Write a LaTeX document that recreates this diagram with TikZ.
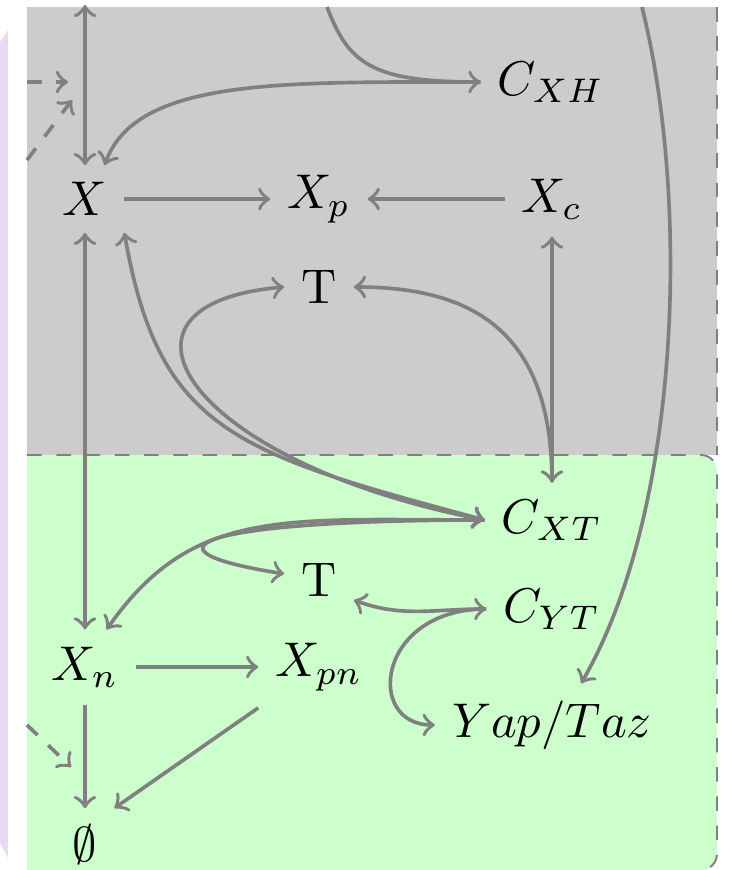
\documentclass[tikz,border=0pt]{standalone}
\usepackage{tikz}
\usepackage{amsmath}
\usepackage{amssymb}
\usetikzlibrary{arrows, positioning, calc}

\definecolor{panel}{RGB}{234,218,245}

\begin{document}
\begin{tikzpicture}[
    x=0.205pt, y=0.205pt,
    var/.style={inner sep=0.3333em},
    arrow/.style={->, draw=gray, line width=0.75pt},
    both/.style={<->, draw=gray, line width=0.75pt},
    reg/.style={->, draw=gray, line width=0.75pt, dashed},
    zone/.style={draw=gray, dashed, thin}
]
    \useasboundingbox (0,0) rectangle (731,870);
    \fill[panel] (0,828) -- (8,840) -- (8,12) -- (0,27) -- cycle;
    \fill[gray!40] (27,415) rectangle (717,863);
    \draw[zone] (717,863) -- (717,415);
    \fill[green!20] (27,0) -- (27,415) -- (701,415) arc[start angle=90, end angle=0, radius=3.28pt]
        -- (717,16) arc[start angle=0, end angle=-90, radius=3.28pt] -- cycle;
    \draw[zone] (27,415) -- (701,415) arc[start angle=90, end angle=0, radius=3.28pt]
        -- (717,16) arc[start angle=0, end angle=-90, radius=3.28pt];

    \node[var] (x) at (85,671) {$X$};
    \node[var] (xp) at (319,671) {$X_p$};
    \node[var] (xc) at (552,671) {$X_c$};
    \node[var] (cxh) at (551,788) {$C_{XH}$};
    \node[var] (t1) at (319,583) {T};
    \node[var] (cxt) at (552,350) {$C_{XT}$};
    \node[var] (t2) at (319,290) {T};
    \node[var] (cyt) at (552,261) {$C_{YT}$};
    \node[var] (xn) at (85,203) {$X_n$};
    \node[var] (xpn) at (319,203) {$X_{pn}$};
    \node[var] (yap) at (552,145) {$Yap/Taz$};
    \node[var] (nul) at (85,25) {$\emptyset$};

    \coordinate (topx) at (85,865);
    \coordinate (toph) at (327,863);
    \coordinate (topy) at (642,863);
    \coordinate (in1) at (27,788);
    \coordinate (tip1) at (68,788);
    \coordinate (in2) at (27,710);
    \coordinate (tip2) at (72,770);
    \coordinate (in3) at (27,145);
    \coordinate (tip3) at (71,103);

    \draw[both] (x) -- (topx);
    \draw[arrow] (toph) to[out=-69, in=180, out distance=12.3pt, in distance=22.5pt] (cxh.west);
    \draw[arrow] (cxh.west) to[out=180, in=70, out distance=41pt, in distance=19pt] (x.60);
    \draw[arrow] (x) -- (xp);
    \draw[arrow] (xc) -- (xp);
    \draw[both] (xc) -- (cxt);
    \draw[arrow] (cxt.north) to[out=90, in=0, out distance=30.75pt, in distance=24.6pt] (t1.east);
    \draw[both] (cxt.west) to[out=169, in=185, out distance=61.5pt, in distance=41pt] (t1.west);
    \draw[both] (cxt.west) to[out=165, in=-80, out distance=53.3pt, in distance=41pt] (x.south east);
    \draw[both] (x) -- (xn);
    \draw[arrow] (cxt.west) to[out=180, in=55, out distance=41pt, in distance=30.75pt] (xn.60);
    \draw[arrow] (cxt.west) to[out=180, in=171, out distance=57.4pt, in distance=32.8pt] (t2.170);
    \draw[both] (cyt.west) to[out=180, in=-20] (t2.-30);
    \draw[arrow] (cyt.west) to[out=180, in=180, out distance=22.5pt, in distance=14.4pt] (yap.west);
    \draw[arrow] (topy) to[out=-76, in=60, out distance=41pt, in distance=41pt] (yap.55);
    \draw[arrow] (xn) -- (xpn);
    \draw[arrow] (xn) -- (nul);
    \draw[arrow] (xpn.south west) -- (nul.north east);
    \draw[reg] (in1) -- (tip1);
    \draw[reg] (in2) -- (tip2);
    \draw[reg] (in3) -- (tip3);
\end{tikzpicture}
\end{document}
